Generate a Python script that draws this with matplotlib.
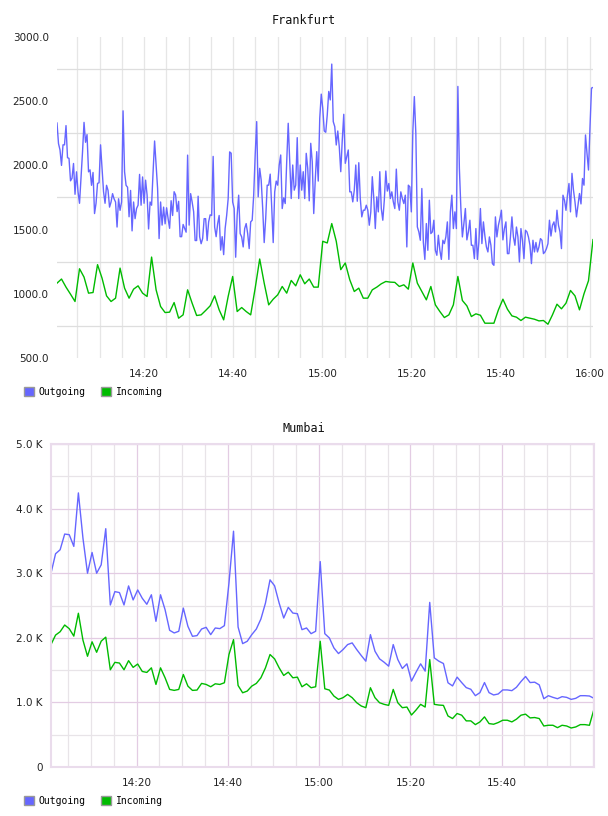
import numpy as np
import pandas as pd
import matplotlib
matplotlib.use("Agg")
import matplotlib.pyplot as plt
import matplotlib.dates as mdates
from matplotlib.patches import Patch
from matplotlib.ticker import FixedLocator, FuncFormatter

DAY = "2014-03-12 "

# Frankfurt: outgoing sampled about every 20 s, incoming about every minute
fra_out = [
    2330, 2170, 2120, 2000, 2160, 2160, 2310, 2060, 2055, 1880,
    1900, 2015, 1775, 1950, 1795, 1705, 1900, 2105, 2335, 2180,
    2240, 1950, 1965, 1845, 1945, 1625, 1705, 1860, 1865, 2160,
    1975, 1795, 1705, 1845, 1805, 1675, 1715, 1780, 1740, 1715,
    1520, 1740, 1650, 1715, 2425, 1950, 1845, 1830, 1600, 1805,
    1490, 1715, 1585, 1665, 1690, 1930, 1690, 1910, 1705, 1885,
    1770, 1505, 1715, 1690, 1950, 2190, 2005, 1820, 1430, 1715, 1535,
    1675, 1545, 1670, 1585, 1510, 1725, 1610, 1795, 1770, 1640,
    1720, 1445, 1445, 1540, 1510, 1480, 2080, 1535, 1780, 1715,
    1640, 1415, 1415, 1760, 1445, 1390, 1430, 1585, 1585, 1415,
    1560, 1615, 1610, 2070, 1520, 1445, 1545, 1610, 1340, 1445,
    1305, 1510, 1610, 1740, 2105, 2095, 1715,
    1665, 1285, 1612, 1768, 1469, 1443, 1365, 1508, 1547, 1469,
    1352, 1560, 1573, 1768, 2081, 2341, 1755, 1977, 1885, 1664,
    1399, 1586, 1846, 1846, 1932, 1677, 1399, 1794, 1878, 1846,
    2003, 2081, 1664, 1747, 1703, 2029, 2328, 2029, 1742, 2003,
    1807, 1846, 2216, 1742, 2003, 1807, 1951, 1742, 2094, 1977,
    1724, 2172, 2029, 1625, 1885, 2107, 1878, 2367, 2555, 2445,
    2268, 2258, 2393, 2576, 2510, 2789, 2341, 2302, 2159, 2268,
    2146, 1951, 2198, 2398, 2016, 2068, 2120, 1794, 1794, 1716,
    1807, 2003, 1721, 2021, 1742, 1599, 1651, 1651, 1690, 1651,
    1534, 1638, 1912, 1742, 1508, 1755, 1638, 1951, 1664, 1573,
    1729, 1956, 1800, 1859, 1742, 1794, 1716, 1664, 1971, 1716,
    1651, 1794, 1742, 1703, 1768, 1365, 1846, 1833, 1638, 2263,
    2536,
    2250, 1521, 1482, 1417, 1820, 1400, 1268, 1547, 1339, 1729, 1469,
    1482, 1573, 1339, 1300, 1456, 1339, 1268, 1417, 1391, 1443, 1560,
    1268, 1638, 1768, 1508, 1638, 1508, 2615, 1977, 1664, 1443,
    1547, 1664, 1420, 1482, 1573, 1378, 1378, 1274, 1508, 1268, 1404,
    1664, 1391, 1560, 1450, 1365, 1326, 1443, 1378, 1235, 1222, 1599,
    1443, 1534, 1586, 1651, 1420, 1508, 1560, 1313, 1313, 1443, 1599,
    1443, 1378, 1520, 1443, 1248, 1508, 1417, 1274, 1495, 1482, 1443,
    1378, 1235, 1417, 1326, 1400, 1326, 1365, 1430, 1417, 1313, 1326,
    1352, 1391, 1573, 1450, 1534, 1560, 1482, 1651, 1534, 1482, 1352,
    1768, 1729, 1650, 1768, 1859, 1638, 1938, 1807, 1716, 1599, 1690,
    1781, 1700, 1898, 1846, 2237, 2094, 1964, 2300, 2602, 2607,
]
fra_in = [
    1083, 1115, 1052, 997, 940, 1195, 1130, 1005, 1010, 1227,
    1122, 984, 940, 966, 1200, 1044, 966, 1036, 1062, 1005,
    979, 1286, 1031, 901, 854, 857, 932, 810, 836, 1031,
    927, 831, 836, 870, 906, 984, 875, 797, 979, 1135,
    862, 893, 862, 836, 1044, 1271, 1083, 914, 958, 992,
    1057, 1005, 1104, 1062, 1148,
    1078, 1115, 1052, 1052, 1409, 1396, 1547, 1409, 1188, 1240,
    1109, 1018, 1044, 966, 966, 1031, 1052, 1078, 1096, 1091,
    1089, 1057, 1070, 1036, 1240, 1083, 1018, 953, 1057, 914,
    862, 815, 836, 914, 1135, 948, 906, 823, 844, 833,
    771, 771, 771, 875, 958, 880, 828, 818, 792, 818,
    810, 802, 789, 792, 763, 836, 919, 883, 927, 1026,
    984, 875, 1000, 1102, 1422,
]
fra_start, fra_end = "14:00:27", "16:00:46"

# Mumbai: both series once a minute
mum_out = [
    3000, 3301, 3363, 3606, 3596, 3415, 4243, 3544, 3000, 3321,
    3000, 3130, 3689, 2508, 2715, 2700, 2508, 2803, 2586, 2741,
    2612, 2519,
    2666, 2255, 2666, 2435, 2116, 2075, 2101, 2460, 2178, 2023,
    2034, 2136, 2162, 2049, 2152, 2142, 2188, 2846, 3650, 2167,
    1910, 1946, 2049, 2136, 2291, 2537, 2897, 2805, 2537, 2306,
    2471, 2383, 2373, 2126, 2152, 2064, 2101, 3180, 2064, 1998,
    1843, 1756, 1818, 1895, 1921, 1818, 1725, 1638, 2049, 1792,
    1674, 1622, 1561, 1895, 1664, 1525, 1597, 1330, 1468, 1597,
    1484, 2548, 1689, 1638, 1602, 1304,
    1255, 1391, 1307, 1229, 1203, 1104, 1151, 1307, 1151, 1115,
    1130, 1193, 1193, 1182, 1234, 1323, 1401, 1307, 1313, 1271,
    1057, 1104, 1078, 1057, 1089, 1078, 1047, 1063, 1104, 1104,
    1099, 1063,
]
mum_in = [
    1896, 2042, 2094, 2198, 2141, 2026, 2380, 1964, 1714, 1938,
    1776, 1948, 2010, 1505, 1620, 1609, 1505, 1646, 1542, 1594,
    1479, 1464,
    1535, 1278, 1535, 1381, 1201, 1186, 1201, 1432, 1252, 1186,
    1191, 1294, 1278, 1242, 1288, 1278, 1304, 1741, 1972, 1262,
    1149, 1175, 1252, 1294, 1381, 1535, 1741, 1674, 1535, 1417,
    1468, 1381, 1391, 1242, 1288, 1227, 1242, 1946, 1211, 1191,
    1098, 1047, 1073, 1124, 1073, 995, 944, 918, 1227, 1073,
    995, 970, 954, 1201, 995, 918, 928, 805, 882, 970,
    928, 1663, 970, 959, 954, 790,
    750, 828, 802, 714, 714, 656, 698, 776, 672, 662,
    688, 724, 724, 698, 740, 802, 818, 760, 766, 750,
    635, 646, 646, 609, 646, 635, 604, 620, 656, 656,
    646, 896,
]
mum_start = "14:01:15"

top_ticks = ["14:20", "14:40", "15:00", "15:20", "15:40", "16:00"]
bottom_ticks = ["14:20", "14:40", "15:00", "15:20", "15:40"]
series_names = ["Outgoing", "Incoming"]

BLUE = "#6666ff"
GREEN = "#00bb00"
MONO = "DejaVu Sans Mono"

plt.rcParams["font.family"] = "DejaVu Sans"
plt.rcParams["font.size"] = 7.5


def ts(t):
    return pd.Timestamp(DAY + t)


fra_out_t = pd.date_range(ts(fra_start), ts(fra_end), periods=len(fra_out))
fra_in_t = pd.date_range(ts(fra_start), ts(fra_end), periods=len(fra_in))
mum_t = pd.date_range(ts(mum_start), periods=len(mum_out), freq="1min")

fig = plt.figure(figsize=(6.08, 8.16), dpi=100)
W, H = 608, 816


def box(left, top, right, bottom):
    return [left / W, 1 - bottom / H, (right - left) / W, (bottom - top) / H]


def style_time_axis(ax, labels, times):
    ax.set_xlim(times[0], times[-1])
    ax.set_xticks([ts(t) for t in labels], labels)
    ax.xaxis.set_minor_locator(mdates.MinuteLocator(byminute=range(0, 60, 5)))
    ax.tick_params(which="both", length=0, colors="#222222")
    ax.tick_params(axis="x", pad=8)
    ax.tick_params(axis="y", pad=6)
    ax.set_axisbelow(True)


def add_legend(y):
    handles = [
        Patch(facecolor=c, edgecolor="#999999", lw=1, label=n)
        for c, n in zip([BLUE, GREEN], series_names)
    ]
    fig.legend(
        handles=handles, loc="center left", bbox_to_anchor=(24 / W, y),
        ncol=2, frameon=False, prop={"family": MONO, "size": 7},
        handlelength=1.0, handleheight=1.0, handletextpad=0.5,
        columnspacing=1.6, borderpad=0, borderaxespad=0,
    )


# Frankfurt
ax1 = fig.add_axes(box(57, 37, 593, 358))
ax1.plot(fra_out_t, fra_out, color=BLUE, lw=1.0)
ax1.plot(fra_in_t, fra_in, color=GREEN, lw=1.0)
ax1.set_ylim(500, 3000)
ax1.yaxis.set_major_locator(FixedLocator(np.arange(500, 3001, 500)))
ax1.yaxis.set_minor_locator(FixedLocator(np.arange(750, 3000, 500)))
ax1.yaxis.set_major_formatter(FuncFormatter(lambda v, p: f"{v:.1f}"))
style_time_axis(ax1, top_ticks, fra_out_t)
ax1.xaxis.grid(True, which="both", color="#e6e6e6", lw=0.9)
ax1.yaxis.grid(True, which="minor", color="#dedede", lw=0.9)
for s in ax1.spines.values():
    s.set_visible(False)
fig.text(0.5, 1 - 20.5 / H, "Frankfurt", ha="center", va="center",
         family=MONO, size=8.5, color="#111111")
add_legend(1 - 392 / H)

# Mumbai
ax2 = fig.add_axes(box(51, 444, 594, 767))
ax2.plot(mum_t, mum_out, color=BLUE, lw=1.0)
ax2.plot(mum_t, mum_in, color=GREEN, lw=1.0)
ax2.set_ylim(0, 5000)
ax2.yaxis.set_major_locator(FixedLocator(np.arange(0, 5001, 1000)))
ax2.yaxis.set_minor_locator(FixedLocator(np.arange(500, 5000, 1000)))
ax2.yaxis.set_major_formatter(
    FuncFormatter(lambda v, p: "0" if v == 0 else f"{v / 1000:.1f} K"))
style_time_axis(ax2, bottom_ticks, mum_t)
ax2.grid(True, which="major", color="#e3cce3", lw=0.9)
ax2.grid(True, which="minor", color="#e8e4e8", lw=0.9)
for s in ax2.spines.values():
    s.set_color("#eadcec")
    s.set_linewidth(1.5)
fig.text(0.5, 1 - 428.5 / H, "Mumbai", ha="center", va="center",
         family=MONO, size=8.5, color="#111111")
add_legend(1 - 800.5 / H)

fig.savefig("out.png", dpi=100, facecolor="white")
